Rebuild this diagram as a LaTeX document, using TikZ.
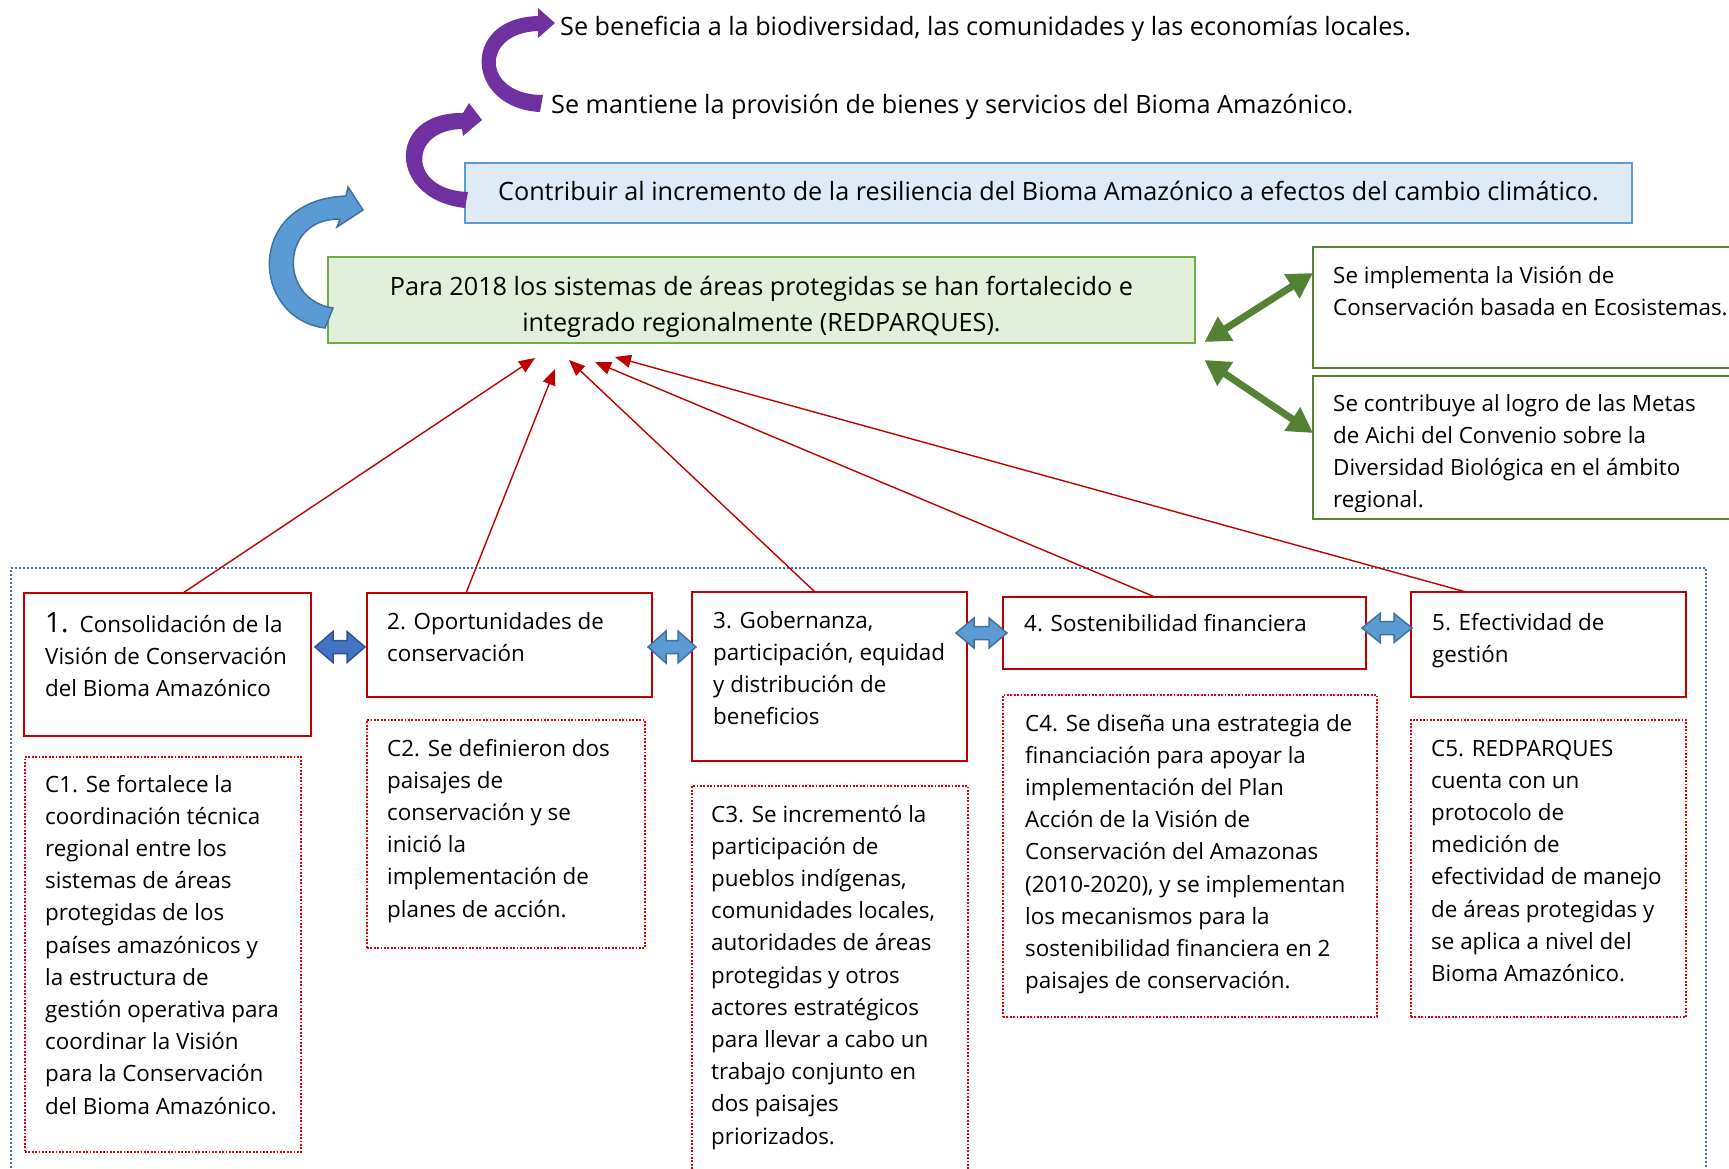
\documentclass[tikz,border=0pt]{standalone}
\usepackage{fontspec}
\setmainfont{Open Sans}
\usetikzlibrary{arrows.meta,calc}
\definecolor{boxred}{HTML}{C00000}
\definecolor{dotred}{HTML}{E00000}
\definecolor{goalgreen}{HTML}{70AD47}
\definecolor{goalfill}{HTML}{E2EFDA}
\definecolor{bluebord}{HTML}{5B9BD5}
\definecolor{bluefill}{HTML}{DEEBF7}
\definecolor{darkgreen}{HTML}{548235}
\definecolor{purp}{HTML}{7030A0}
\definecolor{arrblue}{HTML}{5B9BD5}
\definecolor{arrblueline}{HTML}{41719C}
\definecolor{arrdark}{HTML}{4472C4}
\definecolor{arrdarkline}{HTML}{2F528F}
\definecolor{outerdot}{HTML}{41719C}
\newcommand\bodyfont{\fontsize{22.4}{32.2}\selectfont}
\newcommand\bigfont{\fontsize{25.2}{36}\selectfont}
\newcommand\txtl[1]{\begin{tabular}[t]{@{}l@{}}#1\end{tabular}}
\newcommand\dblarr[7]{%
  \filldraw[#7] (#1,#3) -- ({#1+#6},{#3-#4}) -- ({#1+#6},{#3-#5}) -- ({#2-#6},{#3-#5}) -- ({#2-#6},{#3-#4}) -- (#2,#3) -- ({#2-#6},{#3+#4}) -- ({#2-#6},{#3+#5}) -- ({#1+#6},{#3+#5}) -- ({#1+#6},{#3+#4}) -- cycle;}
\begin{document}
\begin{tikzpicture}[x=1pt,y=-1pt,
  boxbase/.style={anchor=north west, inner sep=0pt, outer sep=0pt},
  redbox/.style={boxbase, draw=boxred, line width=2.4pt, fill=white},
  dotbox/.style={boxbase, draw=dotred, line width=2pt, dash pattern=on 1.8pt off 1.6pt},
  sidebox/.style={boxbase, draw=darkgreen, line width=2.4pt, fill=white},
  txt/.style={anchor=base west, inner sep=0pt, font=\bodyfont},
  bigtxt/.style={anchor=base west, inner sep=0pt, font=\bigfont},
  redarr/.style={draw=boxred, line width=1.4pt, -{Triangle[length=16pt,width=13pt]}},
  garr/.style={draw=darkgreen, line width=7pt, {Triangle[length=25pt,width=27pt]}-{Triangle[length=25pt,width=27pt]}},
  darkdbl/.style={fill=arrdark, draw=arrdarkline, line width=1.5pt, line join=miter},
  lightdbl/.style={fill=arrblue, draw=arrblueline, line width=1.5pt, line join=miter}
]
\useasboundingbox (0,0) rectangle (1729,1168);

% outer dotted frame
\node[boxbase, draw=outerdot, line width=2.2pt, dash pattern=on 2pt off 2pt, minimum width=1695pt, minimum height=640pt] (outer) at (11,568) {};

% top statements
\node[bigtxt] (bene) at (560,35) {Se beneficia a la biodiversidad, las comunidades y las economías locales.};
\node[bigtxt] (mant) at (551,113) {Se mantiene la provisión de bienes y servicios del Bioma Amazónico.};

% resilience box
\node[boxbase, draw=bluebord, fill=bluefill, line width=2pt, minimum width=1167pt, minimum height=60pt] (res) at (465,163) {};
\node[anchor=base, inner sep=0pt, font=\bigfont] (rest) at (1048.5,200) {Contribuir al incremento de la resiliencia del Bioma Amazónico a efectos del cambio climático.};

% goal box
\node[boxbase, draw=goalgreen, fill=goalfill, line width=2pt, minimum width=867pt, minimum height=86pt] (goal) at (328,257) {};
\node[anchor=base, inner sep=0pt, font=\bigfont] (goalt1) at (761.5,295) {Para 2018 los sistemas de áreas protegidas se han fortalecido e};
\begin{scope}
  \clip (330,300) rectangle (1193,336);
  \node[anchor=base, inner sep=0pt, font=\bigfont] (goalt2) at (761.5,331) {integrado regionalmente (REDPARQUES).};
\end{scope}

% curved arrows
\fill[purp] (540,112) .. controls (465,108) and (460,18) .. (538,16) -- (538,8) -- (555,23) -- (538,38) -- (538,31) .. controls (480,33) and (482,95) .. (543,95) -- cycle;
\fill[purp] (465,208) .. controls (388,200) and (385,112) .. (463,113) -- (469,103) -- (482,120) -- (463,136) -- (462,129) .. controls (408,130) and (408,190) .. (468,192) -- cycle;
\filldraw[fill=arrblue, draw=arrblueline, line width=1.5pt] (325,328) .. controls (250,318) and (245,200) .. (346,196) -- (348,187) -- (363,210) -- (337,227) -- (340,219) .. controls (280,218) and (278,300) .. (333,308) -- cycle;

% side result boxes
\node[sidebox, minimum width=430pt, minimum height=121pt] (va) at (1313,247) {};
\node[txt] (vat) at (1333,283) {\txtl{Se implementa la Visión de\\Conservación basada en Ecosistemas.}};
\node[sidebox, minimum width=430pt, minimum height=143pt] (vb) at (1313,376) {};
\begin{scope}
  \clip (1316,380) rectangle (1729,511);
  \node[txt] (vbt) at (1333,411) {\txtl{Se contribuye al logro de las Metas\\de Aichi del Convenio sobre la\\Diversidad Biológica en el ámbito\\regional.}};
\end{scope}
\draw[garr] ($(goal.south east)+(9.5,-1)$) -- ($(va.north west)+(0,26)$);
\draw[garr] ($(goal.south east)+(9.5,17)$) -- ($(vb.north west)+(0,57)$);

% component boxes
\node[redbox, minimum width=287pt, minimum height=143pt] (b1) at (24,593) {};
\node[redbox, minimum width=285pt, minimum height=104pt] (b2) at (367,593) {};
\node[redbox, minimum width=275pt, minimum height=169pt] (b3) at (692,592) {};
\node[redbox, minimum width=363pt, minimum height=72pt] (b4) at (1003,597) {};
\node[redbox, minimum width=275pt, minimum height=105pt] (b5) at (1411,592) {};
\node[txt] (b1t) at (45,632) {\txtl{{\fontsize{28}{32.2}\selectfont 1.}\hspace{11pt}Consolidación de la\\Visión de Conservación\\del Bioma Amazónico}};
\node[txt] (b2t) at (387,629) {\txtl{2. Oportunidades de\\conservación}};
\node[txt] (b3t) at (713,628) {\txtl{3. Gobernanza,\\participación, equidad\\y distribución de\\beneficios}};
\node[txt] (b4t) at (1024,631) {4. Sostenibilidad financiera};
\node[txt] (b5t) at (1432,630) {\txtl{5. Efectividad de\\gestión}};

% red arrows to goal
\draw[redarr] ($(b1.north west)+(159,0)$) -- ($(goal.south west)+(207,15)$);
\draw[redarr] ($(b2.north west)+(99,0)$) -- ($(goal.south west)+(227,26)$);
\draw[redarr] ($(b3.north west)+(123,0)$) -- ($(goal.south west)+(241,17)$);
\draw[redarr] ($(b4.north west)+(152,0)$) -- ($(goal.south west)+(267,19)$);
\draw[redarr] ($(b5.north west)+(55,0)$) -- ($(goal.south west)+(287,14)$);

% double block arrows between components
\dblarr{315}{365}{647}{15.5}{6.5}{18}{darkdbl}
\dblarr{648}{696}{647}{16}{6.5}{18}{lightdbl}
\dblarr{956}{1007}{633}{15}{6.5}{18}{lightdbl}
\dblarr{1362}{1412}{628}{14.5}{6.5}{18}{lightdbl}

% output boxes
\node[dotbox, minimum width=276pt, minimum height=395pt] (c1) at (25,757) {};
\node[dotbox, minimum width=278pt, minimum height=228pt] (c2) at (367,720) {};
\node[dotbox, minimum width=276pt, minimum height=420pt] (c3) at (692,786) {};
\node[dotbox, minimum width=374pt, minimum height=322pt] (c4) at (1003,695) {};
\node[dotbox, minimum width=275pt, minimum height=297pt] (c5) at (1411,720) {};
\node[txt] (c1t) at (45,792) {\txtl{C1. Se fortalece la\\coordinación técnica\\regional entre los\\sistemas de áreas\\protegidas de los\\países amazónicos y\\la estructura de\\gestión operativa para\\coordinar la Visión\\para la Conservación\\del Bioma Amazónico.}};
\node[txt] (c2t) at (387,756) {\txtl{C2. Se definieron dos\\paisajes de\\conservación y se\\inició la\\implementación de\\planes de acción.}};
\node[txt] (c3t) at (711,822) {\txtl{C3. Se incrementó la\\participación de\\pueblos indígenas,\\comunidades locales,\\autoridades de áreas\\protegidas y otros\\actores estratégicos\\para llevar a cabo un\\trabajo conjunto en\\dos paisajes\\priorizados.}};
\node[txt] (c4t) at (1025,731) {\txtl{C4. Se diseña una estrategia de\\financiación para apoyar la\\implementación del Plan\\Acción de la Visión de\\Conservación del Amazonas\\(2010-2020), y se implementan\\los mecanismos para la\\sostenibilidad financiera en 2\\paisajes de conservación.}};
\node[txt] (c5t) at (1431,756) {\txtl{C5. REDPARQUES\\cuenta con un\\protocolo de\\medición de\\efectividad de manejo\\de áreas protegidas y\\se aplica a nivel del\\Bioma Amazónico.}};
\end{tikzpicture}
\end{document}
